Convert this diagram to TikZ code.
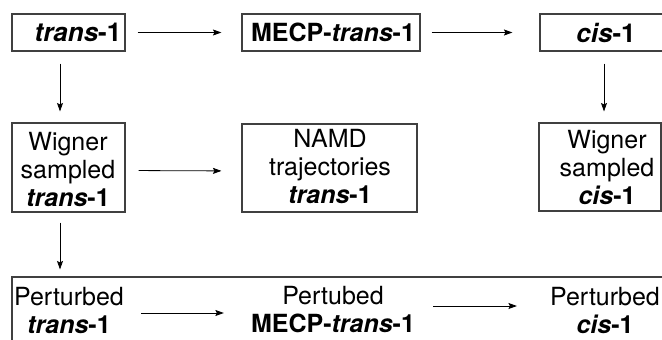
\documentclass[tikz,border=0pt]{standalone}
\usepackage{fontspec}
\setmainfont{TeX Gyre Heros}
\usetikzlibrary{arrows.meta}
\newcommand{\chem}[1]{\textbf{\textit{#1}}}
\tikzset{
  box/.style={draw=black!75, line width=1.1pt, rectangle, inner sep=0pt},
  lbl/.style={inner sep=0pt, align=center, font=\fontsize{25}{28}\selectfont},
  arr/.style={-{Stealth[length=8.5pt,width=6pt,inset=1.5pt]}, line width=0.8pt, black},
}
\begin{document}
\begin{tikzpicture}[x=1pt, y=-1pt]
  \clip (0,0) rectangle (662,340);
  \fill[white] (0,0) rectangle (662,340);

  % boxes
  \node[box, minimum width=113pt, minimum height=37pt] (b1) at (68.5,32.5) {};
  \node[box, minimum width=178pt, minimum height=37pt] (b2) at (331,32.5) {};
  \node[box, minimum width=140pt, minimum height=37pt] (b3) at (610,32.5) {};
  \node[box, minimum width=113pt, minimum height=89pt] (b4) at (68.5,167.5) {};
  \node[box, minimum width=175pt, minimum height=88pt] (b5) at (329.5,168) {};
  \node[box, minimum width=122pt, minimum height=88pt] (b6) at (600,167) {};
  \node[box, minimum width=668pt, minimum height=83pt] (b7) at (346,318.5) {};

  % texts
  \node[lbl, font=\fontsize{26}{28}\selectfont] (t1) at (78,32.5) {\chem{trans}\textbf{-1}};
  \node[lbl] (t2) at (333,32.5) {\textbf{MECP-}\chem{trans}\textbf{-1}};
  \node[lbl, font=\fontsize{26}{28}\selectfont] (t3) at (606,32.5) {\chem{cis}\textbf{-1}};
  \node[lbl] (t4) at (68,169) {Wigner\\sampled\\\chem{trans}\textbf{-1}};
  \node[lbl] (t5) at (330,166) {NAMD\\trajectories\\\chem{trans}\textbf{-1}};
  \node[lbl] (t6) at (607,167) {Wigner\\sampled\\\chem{cis}\textbf{-1}};
  \node[lbl] (t7) at (69,310) {Perturbed\\\chem{trans}\textbf{-1}};
  \node[lbl] (t8) at (333,310) {Pertubed\\\textbf{MECP-}\chem{trans}\textbf{-1}};
  \node[lbl] (t9) at (605,310) {Perturbed\\\chem{cis}\textbf{-1}};

  % connectors
  \draw[arr, shorten <=12pt, shorten >=20pt] (b1.east) -- (b2.west);
  \draw[arr, shorten <=11pt, shorten >=27pt] (b2.east) -- (b3.west);
  \draw[arr, shorten <=12pt, shorten >=11pt] ([xshift=-8.5pt]b1.south) -- ([xshift=-8.5pt]b4.north);
  \draw[arr, shorten <=12pt, shorten >=11pt] ([xshift=-6pt]b3.south) -- ([xshift=4pt]b6.north);
  \draw[arr, shorten <=13pt, shorten >=20pt] ([yshift=-3pt]b4.east) -- ([yshift=-3pt]b5.west);
  \draw[arr, shorten <=10pt, shorten >=7pt] ([xshift=-8.5pt]b4.south) -- ([xshift=-8.5pt]b4.south |- b7.north);
  \draw[arr, shorten <=17pt, shorten >=27pt] ([yshift=-3pt]t7.east) -- ([yshift=-3pt]t7.east -| t8.west);
  \draw[arr, shorten <=18pt, shorten >=33pt] ([yshift=4pt]t8.east) -- ([yshift=4pt]t8.east -| t9.west);
\end{tikzpicture}
\end{document}
